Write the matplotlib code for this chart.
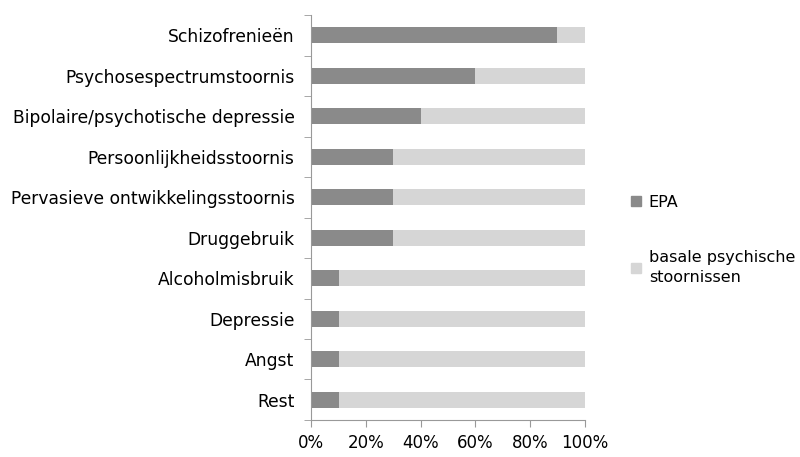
import matplotlib
matplotlib.use("Agg")
import matplotlib.pyplot as plt
from matplotlib.patches import Patch

categories = ["Schizofrenieën", "Psychosespectrumstoornis", "Bipolaire/psychotische depressie",
              "Persoonlijkheidsstoornis", "Pervasieve ontwikkelingsstoornis", "Druggebruik",
              "Alcoholmisbruik", "Depressie", "Angst", "Rest"]
epa = [90, 60, 40, 30, 30, 30, 10, 10, 10, 10]
basaal = [100 - v for v in epa]
series_names = ["EPA", "basale psychische\nstoornissen"]
xticks = [0, 20, 40, 60, 80, 100]

plt.rcParams['font.family'] = ['DejaVu Sans']
fig = plt.figure(figsize=(8, 4.57), dpi=100)
ax = fig.add_axes([0.389, 0.081, 0.342, 0.886])

c_dark = "#8a8a8a"
c_light = "#d6d6d6"
n = len(categories)
ypos = list(range(n))[::-1]
ax.barh(ypos, epa, height=0.4, color=c_dark, edgecolor="none")
ax.barh(ypos, basaal, left=epa, height=0.4, color=c_light, edgecolor="none")

ax.set_xlim(0, 100)
ax.set_ylim(-0.5, n - 0.5)
ax.set_xticks(xticks)
ax.set_xticklabels([f"{v}%" for v in xticks], fontsize=12)
ax.set_yticks(ypos)
ax.set_yticklabels(categories, fontsize=12.3)
ax.tick_params(axis='y', length=0, pad=12)
ax.set_yticks([i - 0.5 for i in range(n + 1)], minor=True)
ax.tick_params(axis='y', which='minor', length=5, color="#999999")
ax.tick_params(axis='x', length=5, color="#999999", pad=5)

for s in ["top", "right"]:
    ax.spines[s].set_visible(False)
ax.spines["left"].set_color("#999999")
ax.spines["bottom"].set_color("#999999")

handles = [Patch(color=c_dark), Patch(color=c_light)]
leg = fig.legend(handles, series_names, loc="center left", bbox_to_anchor=(0.771, 0.475),
                 frameon=False, fontsize=11.5, handlelength=0.6, handleheight=0.6,
                 labelspacing=2.5, handletextpad=0.5)
for t in leg.get_texts():
    t.set_linespacing(1.45)

fig.savefig("out.png", dpi=100)
